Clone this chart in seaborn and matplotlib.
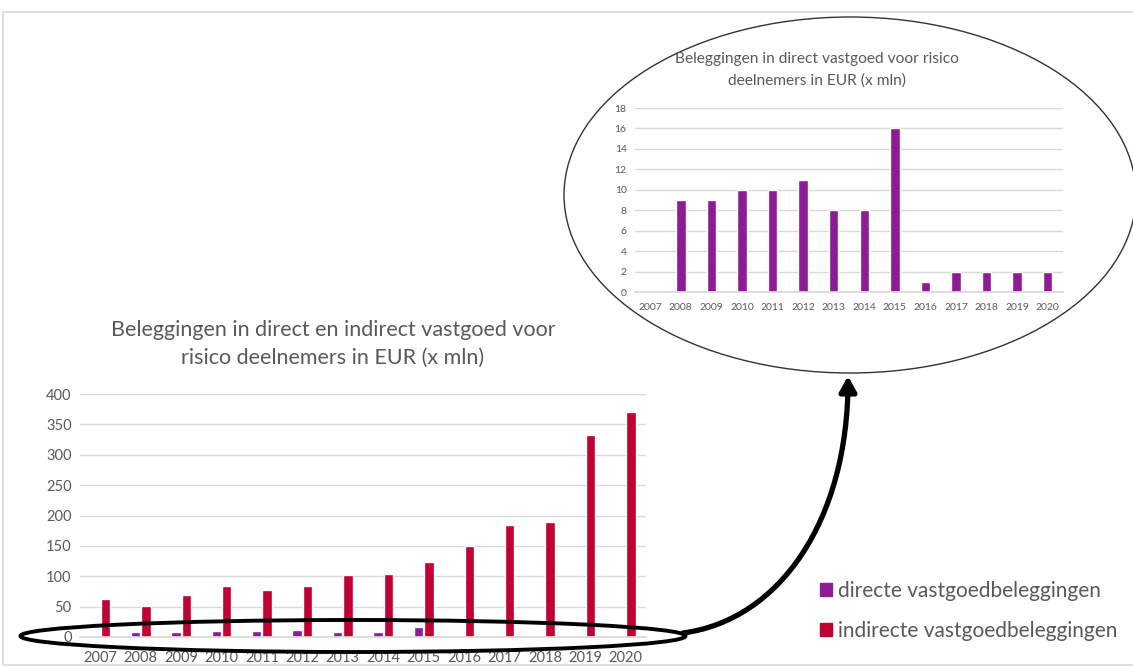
import matplotlib.pyplot as plt
import numpy as np
import pandas as pd
import seaborn as sns
from matplotlib.patches import Ellipse, FancyArrowPatch, Rectangle
from matplotlib.path import Path

# data
years = ['2007', '2008', '2009', '2010', '2011', '2012', '2013',
         '2014', '2015', '2016', '2017', '2018', '2019', '2020']
direct = [0, 9, 9, 10, 10, 11, 8, 8, 16, 1, 2, 2, 2, 2]
indirect = [63, 51, 69, 84, 77, 84, 102, 104, 124, 150, 185, 190, 332, 370]
series_names = ['directe vastgoedbeleggingen', 'indirecte vastgoedbeleggingen']
main_title = 'Beleggingen in direct en indirect vastgoed voor\nrisico deelnemers in EUR (x mln)'
inset_title = 'Beleggingen in direct vastgoed voor risico\ndeelnemers in EUR (x mln)'

purple = '#8E1B96'
red = '#C00033'
grey_txt = '#595959'
grid_col = '#D9D9D9'

sns.set_theme(style='white')
plt.rcParams['font.family'] = ['Lato', 'DejaVu Sans']

W, H = 1133, 668
fig = plt.figure(figsize=(W / 100, H / 100), dpi=100)


def px(x, y):
    # pixel position -> figure fraction
    return (x / W, 1 - y / H)


def style_axes(ax, fs):
    for s in ['top', 'right', 'left']:
        ax.spines[s].set_visible(False)
    ax.spines['bottom'].set_color(grid_col)
    ax.yaxis.grid(True, color=grid_col, linewidth=1)
    ax.set_axisbelow(True)
    ax.tick_params(axis='both', length=0, labelsize=fs, labelcolor=grey_txt, pad=6)
    ax.set_xlabel('')
    ax.set_ylabel('')


# main chart
df = pd.DataFrame({
    'Jaar': years * 2,
    'Waarde': direct + indirect,
    'Soort': [series_names[0]] * len(years) + [series_names[1]] * len(years),
})
ax = fig.add_axes([80 / W, 1 - 637 / H, 566 / W, 243 / H])
sns.barplot(data=df, x='Jaar', y='Waarde', hue='Soort', palette=[purple, red],
            saturation=1, width=0.52, gap=0.1, ax=ax, legend=False)
ax.set_ylim(0, 400)
ax.set_yticks(range(0, 401, 50))
ax.set_xlim(-0.5, len(years) - 0.5)
style_axes(ax, 10.5)
ax.tick_params(axis='x', pad=10)
fig.text(*px(333, 344), main_title, ha='center', va='center', fontsize=15.5,
         color=grey_txt, linespacing=1.45)

# inset chart
ax2 = fig.add_axes([635 / W, 1 - 292 / H, 428 / W, 184 / H])
sns.barplot(x=years, y=direct, color=purple, saturation=1, width=0.31, ax=ax2)
ax2.set_ylim(0, 18)
ax2.set_yticks(range(0, 19, 2))
ax2.set_xlim(-0.5, len(years) - 0.5)
style_axes(ax2, 7.5)
ax2.tick_params(axis='x', pad=8)
fig.text(*px(817, 70), inset_title, ha='center', va='center', fontsize=11.2,
         color=grey_txt, linespacing=1.6)

# legend
handles = [Rectangle((0, 0), 1, 1, color=purple), Rectangle((0, 0), 1, 1, color=red)]
fig.legend(handles, series_names, loc='upper left', bbox_to_anchor=px(801, 562),
           frameon=False, fontsize=15, labelcolor=grey_txt, handlelength=0.6,
           handleheight=0.6, handletextpad=0.3, labelspacing=0.95)

# ellipses and arrow
fig.patches.append(Ellipse(px(850, 195), 572 / W, 356 / H, fill=False,
                           edgecolor='#333333', linewidth=1.0, transform=fig.transFigure))
fig.patches.append(Ellipse(px(353, 636), 665 / W, 32 / H, fill=False,
                           edgecolor='black', linewidth=2.8, transform=fig.transFigure))
arrow_path = Path([px(683, 633), px(780, 620), px(848, 520), px(848, 376)],
                  [Path.MOVETO, Path.CURVE4, Path.CURVE4, Path.CURVE4])
fig.patches.append(FancyArrowPatch(path=arrow_path, arrowstyle='-|>,head_length=9,head_width=5',
                                   color='black', linewidth=3.8, transform=fig.transFigure))

# outer frame
fig.patches.append(Rectangle(px(3, 665), 1.0, (665 - 12) / H, fill=False,
                             edgecolor=grid_col, linewidth=1.2, transform=fig.transFigure))

fig.savefig('out.png', dpi=100)
